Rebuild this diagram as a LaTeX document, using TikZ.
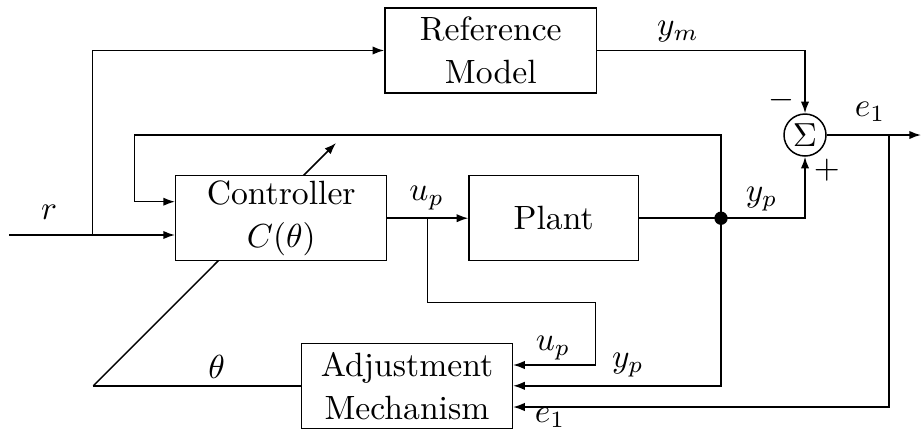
\documentclass[tikz,border=0pt]{standalone}
\usetikzlibrary{arrows.meta,calc}
\begin{document}
\begin{tikzpicture}[x=0.3pt,y=-0.3pt,
  line width=0.45pt,
  blk/.style={draw,fill=white,inner sep=0pt,minimum height=25.5pt,align=center,font=\fontsize{10.1}{13}\selectfont},
  sumnode/.style={draw,fill=white,circle,inner sep=0pt,minimum size=12.6pt},
  arr/.style={-{Latex[length=3.5pt,width=2.5pt]}},
  lbl/.style={inner sep=0pt}]
\useasboundingbox (0,0) rectangle (921,430);
% coordinates
\coordinate (rin) at (9,235);
\coordinate (rj) at (92.7,235);
\coordinate (fb) at (134.7,135);
\coordinate (fbin) at (134.7,201.7);
\coordinate (upj) at (427.7,218.2);
\coordinate (upc) at (595.3,302.3);
\coordinate (upin) at (595.3,365);
\coordinate (ej) at (889,135);
\coordinate (eout) at (921,135);
\coordinate (e1y) at (889,407);
\coordinate (th) at (93.3,385.8);
\coordinate (tharr) at (336,143);
% adjustable parameter arrow (behind controller)
\draw[arr] (th) -- (tharr);
% blocks
\node[blk,minimum width=63.5pt] (ref) at (490.8,50.5) {Reference\\Model};
\node[blk,minimum width=63.3pt] (ctrl) at (281.2,218.2) {Controller\\$C(\theta)$};
\node[blk,minimum width=50.8pt] (plant) at (553.7,218.2) {Plant};
\node[blk,minimum width=63.2pt] (adj) at (407,385.8) {Adjustment\\Mechanism};
\node[sumnode] (sum) at (805,135) {$\Sigma$};
\node[circle,fill,inner sep=0pt,minimum size=4pt] (dot) at (721,218.2) {};
% connectors
\draw[arr] (rin) -- (ctrl.west |- rin);
\draw[arr] (rj) |- (ref.west);
\draw[arr] (dot.center) -- (dot.center |- fb) -- (fb) -- (fbin) -- (ctrl.west |- fbin);
\draw[arr] (ctrl) -- (plant);
\draw[arr] (plant) -- (dot.center) -| (sum.south);
\draw[arr] (dot.center) |- (adj.east);
\draw[arr] (upj) |- (upc) -- (upin) -- (adj.east |- upin);
\draw[arr] (ref.east) -| (sum.north);
\draw[arr] (sum.east) -- (eout);
\draw[arr] (ej) -- (e1y) -- (adj.east |- e1y);
\draw (adj.west) -- (th);
% labels
\node[lbl] at (49,212) {$r$};
\node[lbl] at (426.7,198) {$u_p$};
\node[lbl] at (678,32) {$y_m$};
\node[lbl] at (761.7,199) {$y_p$};
\node[lbl] at (870,112) {$e_1$};
\node[lbl] at (781.7,100) {$-$};
\node[lbl] at (826.7,170) {$+$};
\node[lbl] at (216.7,366.7) {$\theta$};
\node[lbl] at (553,348) {$u_p$};
\node[lbl] at (628,365) {$y_p$};
\node[lbl] at (550,418) {$e_1$};
\end{tikzpicture}
\end{document}
